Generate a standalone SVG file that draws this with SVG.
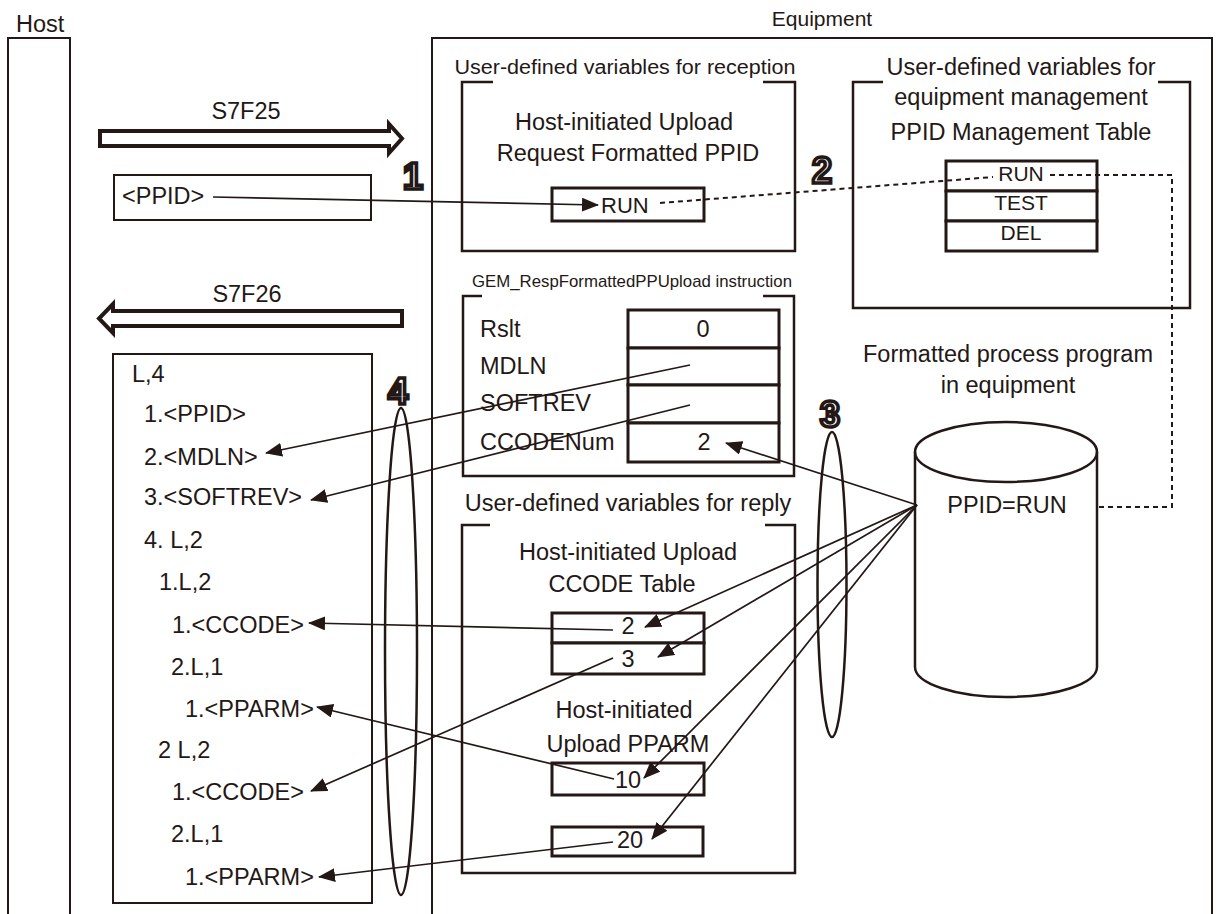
<svg xmlns="http://www.w3.org/2000/svg" width="1218" height="914" viewBox="0 0 1218 914">
<style>
  text { font-family: "Liberation Sans", Arial, sans-serif; fill: #231815; }
  .t { font-size: 23.5px; }
  .m { text-anchor: middle; }
  .num { font-family: "Liberation Sans", Arial, sans-serif; font-weight: bold; font-size: 36px; fill: #fff; stroke: #231815; stroke-width: 3.6; text-anchor: middle; }
  .box { fill: none; stroke: #231815; stroke-width: 2.5; }
  .thin { fill: none; stroke: #231815; stroke-width: 2; }
  .cell { fill: #fff; stroke: #231815; stroke-width: 3; }
  .ln { fill: none; stroke: #231815; stroke-width: 1.7; }
  .dot { fill: none; stroke: #231815; stroke-width: 2; stroke-dasharray: 5 4; }
  .big { fill: #fff; stroke: #231815; stroke-width: 4; stroke-linejoin: miter; }
</style>
<defs>
  <marker id="ah" viewBox="0 0 17 14" refX="16" refY="7" markerWidth="17" markerHeight="14" markerUnits="userSpaceOnUse" orient="auto">
    <path d="M0,0 L17,7 L0,14 Z" fill="#231815"/>
  </marker>
</defs>
<rect width="1218" height="914" fill="#fff"/>

<g id="host">
  <path class="thin" d="M8,920 V38 H70 V920"/>
  <text class="t" x="16" y="32">Host</text>
</g>

<g id="equipment">
  <path class="thin" d="M432,920 V38 H1212 V920"/>
  <text x="822" y="26" class="m" font-size="21">Equipment</text>
</g>

<g id="s7f25">
  <path class="big" d="M100,131 L389,131 L389,124 L402,138.5 L389,153 L389,146 L100,146 Z"/>
  <text class="t m" x="246" y="119">S7F25</text>
</g>

<g id="ppid-msg">
  <rect class="thin" x="114" y="175" width="257" height="45"/>
  <text class="t" x="122" y="204">&lt;PPID&gt;</text>
</g>

<g id="s7f26">
  <path class="big" d="M402,311 L113,311 L113,304 L99,318.5 L113,333 L113,326 L402,326 Z"/>
  <text class="t m" x="247" y="302">S7F26</text>
</g>

<g id="reply-list">
  <rect class="thin" x="113" y="354" width="259" height="549"/>
  <text class="t" x="132" y="382">L,4</text>
  <text class="t" x="144" y="422">1.&lt;PPID&gt;</text>
  <text class="t" x="144" y="465">2.&lt;MDLN&gt;</text>
  <text class="t" x="144" y="505">3.&lt;SOFTREV&gt;</text>
  <text class="t" x="144" y="548">4. L,2</text>
  <text class="t" x="159" y="590">1.L,2</text>
  <text class="t" x="172" y="633">1.&lt;CCODE&gt;</text>
  <text class="t" x="171" y="675">2.L,1</text>
  <text class="t" x="185" y="717">1.&lt;PPARM&gt;</text>
  <text class="t" x="158" y="758">2 L,2</text>
  <text class="t" x="172" y="800">1.&lt;CCODE&gt;</text>
  <text class="t" x="171" y="842">2.L,1</text>
  <text class="t" x="185" y="885">1.&lt;PPARM&gt;</text>
</g>

<g id="reception">
  <path class="box" d="M493,82 H462 V251 H795 V82 H763"/>
  <text x="625" y="74" class="m" font-size="20" textLength="341" lengthAdjust="spacingAndGlyphs">User-defined variables for reception</text>
  <text class="t m" x="624" y="130">Host-initiated Upload</text>
  <text class="t m" x="628" y="161">Request Formatted PPID</text>
  <rect class="cell" x="552" y="188" width="152" height="33"/>
  <text x="601" y="213" font-size="22">RUN</text>
</g>

<g id="management">
  <path class="box" d="M883,82 H853 V308 H1190 V82 H1158"/>
  <text class="t m" x="1021" y="75">User-defined variables for</text>
  <text class="t m" x="1021" y="105">equipment management</text>
  <text class="t m" x="1021" y="140">PPID Management Table</text>
  <rect class="cell" x="946" y="161" width="151" height="30"/>
  <rect class="cell" x="946" y="191" width="151" height="30"/>
  <rect class="cell" x="946" y="221" width="151" height="30"/>
  <text x="1021" y="181" class="m" font-size="21">RUN</text>
  <text x="1021" y="210" class="m" font-size="21">TEST</text>
  <text x="1021" y="240" class="m" font-size="21">DEL</text>
</g>

<g id="gem-instruction">
  <path class="box" d="M482,296 H463 V476 H794 V296 H763"/>
  <text x="632" y="287" class="m" font-size="17" textLength="320" lengthAdjust="spacingAndGlyphs">GEM_RespFormattedPPUpload instruction</text>
  <rect class="cell" x="628" y="310" width="151" height="38"/>
  <rect class="cell" x="628" y="348" width="151" height="37"/>
  <rect class="cell" x="628" y="385" width="151" height="38"/>
  <rect class="cell" x="628" y="423" width="151" height="39"/>
  <text class="t" x="480" y="337">Rslt</text>
  <text class="t" x="480" y="374">MDLN</text>
  <text class="t" x="480" y="411">SOFTREV</text>
  <text class="t" x="480" y="450">CCODENum</text>
  <text class="t m" x="703" y="337">0</text>
  <text class="t m" x="704" y="450">2</text>
</g>

<g id="reply-vars">
  <path class="box" d="M490,525 H462 V873 H795 V525 H765"/>
  <text class="t m" x="628" y="511">User-defined variables for reply</text>
  <text class="t m" x="628" y="560">Host-initiated Upload</text>
  <text class="t m" x="622" y="592">CCODE Table</text>
  <rect class="cell" x="552" y="613" width="152" height="30"/>
  <rect class="cell" x="552" y="643" width="152" height="31"/>
  <text class="t m" x="628" y="634">2</text>
  <text class="t m" x="628" y="667">3</text>
  <text class="t m" x="624" y="718">Host-initiated</text>
  <text class="t m" x="628" y="752">Upload PPARM</text>
  <rect class="cell" x="552" y="763" width="152" height="32"/>
  <text class="t m" x="628" y="788">10</text>
  <rect class="cell" x="552" y="827" width="151" height="29"/>
  <text class="t m" x="630" y="848">20</text>
</g>

<g id="program-db">
  <text class="t m" x="1008" y="362">Formatted process program</text>
  <text class="t m" x="1008" y="393">in equipment</text>
  <path class="box" fill="#fff" d="M915,452 V667 A91,30 0 0 0 1097,667 V452"/>
  <ellipse class="box" cx="1006" cy="452" rx="91" ry="30"/>
  <text class="t m" x="1007" y="513">PPID=RUN</text>
</g>

<g id="markers">
  <text class="num" x="413" y="189">1</text>
  <text class="num" x="822" y="183">2</text>
  <text class="num" x="830" y="427">3</text>
  <text class="num" x="398" y="404">4</text>
  <ellipse class="box" cx="832" cy="584.5" rx="14.5" ry="152.5"/>
  <ellipse class="box" cx="401" cy="651.5" rx="16" ry="243.5"/>
</g>

<g id="connectors">
  <line class="ln" x1="213" y1="197" x2="598" y2="205" marker-end="url(#ah)"/>
  <line class="dot" x1="660" y1="203" x2="993" y2="177"/>
  <path class="dot" d="M1050,175 H1172 V507 H1098"/>
  <line class="ln" x1="917" y1="505" x2="726" y2="443" marker-end="url(#ah)"/>
  <line class="ln" x1="917" y1="505" x2="645" y2="627" marker-end="url(#ah)"/>
  <line class="ln" x1="917" y1="505" x2="658" y2="657" marker-end="url(#ah)"/>
  <line class="ln" x1="917" y1="505" x2="644" y2="778" marker-end="url(#ah)"/>
  <line class="ln" x1="917" y1="505" x2="652" y2="839" marker-end="url(#ah)"/>
  <line class="ln" x1="690" y1="365" x2="266" y2="453" marker-end="url(#ah)"/>
  <line class="ln" x1="690" y1="405" x2="311" y2="500" marker-end="url(#ah)"/>
  <line class="ln" x1="613" y1="630" x2="309" y2="623" marker-end="url(#ah)"/>
  <line class="ln" x1="614" y1="779" x2="317" y2="707" marker-end="url(#ah)"/>
  <line class="ln" x1="613" y1="658" x2="311" y2="791" marker-end="url(#ah)"/>
  <line class="ln" x1="613" y1="842" x2="319" y2="877" marker-end="url(#ah)"/>
</g>
</svg>
